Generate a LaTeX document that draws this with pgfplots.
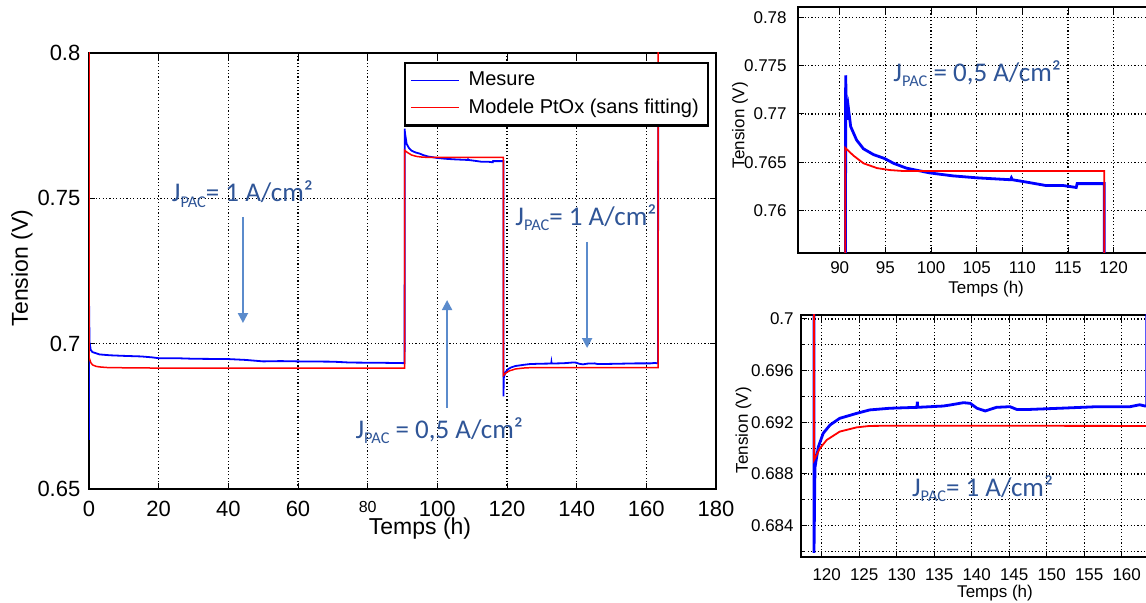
\documentclass[border=0pt]{standalone}
\usepackage{fontspec}
\setmainfont{Liberation Sans}
\newfontfamily\calib{Carlito}
\usepackage{graphicx}
\usepackage{pgfplots}
\pgfplotsset{compat=1.18}
\usepackage{pgfplotstable}
\usetikzlibrary{arrows.meta}
\definecolor{annot}{RGB}{47,85,151}
\definecolor{arrowc}{RGB}{91,139,204}
\definecolor{mblue}{RGB}{0,0,255}
\definecolor{mred}{RGB}{255,0,0}

\newcommand{\jpac}[1]{{\calib\fontsize{13.5}{14}\selectfont J\raisebox{-2.6pt}{\fontsize{8.2}{8}\selectfont PAC}#1}}

\pgfplotstableread{
t v
0 0.6669
0.02 0.7138
0.15 0.7005
0.5 0.6978
1 0.6971
3 0.6963
6 0.6960
10 0.6958
15 0.6956
18 0.6953
20 0.6950
25 0.6950
30 0.6948
40 0.6947
45 0.6944
50 0.6939
55 0.6940
60 0.6939
70 0.6938
75 0.6935
85 0.6934
90.6 0.6933
90.65 0.7740
90.76 0.7694
90.94 0.7707
91.2 0.7687
91.85 0.7673
92.6 0.7664
93.7 0.7658
94.9 0.7654
95.9 0.7649
97.3 0.7644
99.9 0.7639
102.4 0.7636
105 0.7634
108.7 0.7632
108.8 0.7634
108.9 0.7632
110.8 0.7629
112.6 0.7626
114.5 0.7626
115.9 0.7624
116.0 0.7628
116.7 0.7628
118.97 0.7628
118.97 0.6819
119.1 0.6885
119.55 0.6901
120.2 0.69115
121.1 0.69179
122.4 0.69231
124.7 0.6927
126.4 0.69296
129.1 0.69309
132.7 0.69316
132.75 0.69359
132.8 0.69316
136.2 0.69326
137.1 0.69334
138.9 0.69352
139.8 0.69347
140.7 0.69309
141.8 0.69288
143.3 0.69316
145.1 0.69321
146 0.69300
147.8 0.69300
152.2 0.69310
156.7 0.69321
161.1 0.69321
162.4 0.69336
163.1 0.69326
163.35 0.69326
163.4 0.7770
}\bluedata

\pgfplotstableread{
t v
0 0.85
0 0.6953
0.5 0.6935
1 0.6927
2 0.6922
3 0.6920
5 0.6918
10 0.6917
20 0.6916
90.6 0.6916
90.6 0.7665
91.5 0.7657
92.6 0.7649
94.1 0.7644
95.5 0.7642
97 0.7641
118.97 0.7641
118.97 0.68908
119.77 0.68999
120.66 0.69063
122.4 0.69128
124.66 0.69161
126.4 0.69172
129.96 0.69174
163.4 0.69172
163.4 0.85
}\reddata

\pgfplotsset{
  mstyle/.style={
    scale only axis,
    anchor=south west,
    axis line style={line width=1pt, black},
    grid=major,
    major grid style={dash pattern=on 0.6pt off 1.1pt, line width=0.55pt, black},
    minor grid style={dash pattern=on 0.6pt off 1.1pt, line width=0.55pt, black},
    tick align=inside,
    tick style={black, line width=0.5pt},
    major tick length=3pt,
    minor tick length=2pt,
    /pgf/number format/assume math mode=true,
    /pgf/number format/fixed,
    /pgf/number format/precision=3,
  }
}

\begin{document}
\begin{tikzpicture}
% ---------------- main axis ----------------
\begin{axis}[mstyle,
  at={(44.5pt,57pt)},
  width=313.5pt, height=218pt,
  xmin=0, xmax=180, ymin=0.65, ymax=0.8,
  xtick={0,20,...,180},
  xticklabels={0,20,40,60,{\fontsize{8}{8}\selectfont 80},100,120,140,160,180},
  ytick={0.65,0.7,0.75,0.8},
  ticklabel style={font=\fontsize{11}{11}\selectfont},
  xticklabel style={yshift=-2.6pt},
  yticklabel style={xshift=-0.8pt},
  xlabel={Temps (h)},
  ylabel={Tension (V)},
  xlabel style={at={(axis description cs:0.528,-0.09)}, anchor=center, font=\fontsize{11.5}{12}\selectfont},
  ylabel style={at={(axis description cs:-0.107,0.507)}, anchor=center, font=\fontsize{11.5}{12}\selectfont},
  legend style={at={(axis description cs:0.9888,0.9794)}, anchor=north east,
    draw=black, very thick, fill=white,
    font=\fontsize{10}{10}\selectfont, cells={anchor=west},
    inner xsep=2.5pt, inner ysep=2.5pt, row sep=1pt},
  legend image code/.code={\draw[#1, line width=0.8pt] (0pt,0pt) -- (24pt,0pt); \path (26.5pt,0pt);},
]
\addplot[mblue, line width=0.9pt] table[x=t, y=v] {\bluedata};
\addlegendentry{Mesure}
\addplot[mred, line width=0.75pt] table[x=t, y=v] {\reddata};
\addlegendentry{Modele PtOx (sans fitting)}

\node[anchor=base west, inner sep=0pt, text=annot] at (axis cs:23.7,0.7488) {\jpac{= 1 A/cm²}};
\node[anchor=base west, inner sep=0pt, text=annot] at (axis cs:76.4,0.6674) {\jpac{\ = 0,5 A/cm²}};
\node[anchor=base west, inner sep=0pt, text=annot] at (axis cs:122.3,0.7408) {\jpac{= 1 A/cm²}};
\draw[arrowc, line width=1pt, -{Triangle[width=5pt,length=5pt]}] (axis cs:44.2,0.7436) -- (axis cs:44.2,0.7071);
\draw[arrowc, line width=1pt, -{Triangle[width=5pt,length=5pt]}] (axis cs:102.8,0.6779) -- (axis cs:102.8,0.7150);
\draw[arrowc, line width=1pt, -{Triangle[width=5pt,length=5pt]}] (axis cs:143.0,0.7350) -- (axis cs:143.0,0.6985);
\end{axis}

% ---------------- inset 1 (0.5 A/cm2) ----------------
\begin{axis}[mstyle,
  at={(398.85pt,175.15pt)},
  width=180.8pt, height=122.7pt,
  xmin=85.4, xmax=125, ymin=0.75566, ymax=0.78103,
  xtick={90,95,...,120},
  ytick={0.76,0.765,0.77,0.775,0.78},
  ticklabel style={font=\fontsize{8.5}{9}\selectfont},
  xticklabel style={yshift=-0.9pt},
  yticklabel style={xshift=-2pt},
  xlabel={Temps (h)},
  ylabel={Tension (V)},
  xlabel style={at={(axis description cs:0.521,-0.148)}, anchor=center, font=\fontsize{8.5}{9}\selectfont},
  ylabel style={at={(axis description cs:-0.16,0.52)}, anchor=center, font=\fontsize{8.5}{9}\selectfont},
]
\addplot[mblue, line width=1.4pt] table[x=t, y=v] {\bluedata};
\addplot[mred, line width=0.9pt] table[x=t, y=v] {\reddata};
\node[anchor=base west, inner sep=0pt, text=annot] at (axis cs:95.84,0.77334) {\jpac{\ = 0,5 A/cm²}};
\end{axis}

% ---------------- inset 2 (1 A/cm2) ----------------
\begin{axis}[mstyle,
  at={(400.35pt,22.85pt)},
  width=179.25pt, height=121.15pt,
  xmin=117.2, xmax=165, ymin=0.68155, ymax=0.70031,
  xtick={120,125,...,160},
  ytick={0.684,0.688,0.692,0.696,0.7},
  minor ytick={0.682,0.686,0.69,0.694,0.698},
  grid=both,
  ticklabel style={font=\fontsize{8.5}{9}\selectfont},
  xticklabel style={yshift=-2pt, xshift=2.5pt},
  xlabel={Temps (h)},
  ylabel={Tension (V)},
  xlabel style={at={(axis description cs:0.542,-0.147)}, anchor=center, font=\fontsize{8.5}{9}\selectfont},
  ylabel style={at={(axis description cs:-0.16,0.525)}, anchor=center, font=\fontsize{8.5}{9}\selectfont},
]
\addplot[mblue, line width=1.4pt] table[x=t, y=v] {\bluedata};
\addplot[mred, line width=0.9pt] table[x=t, y=v] {\reddata};
\node[anchor=base west, inner sep=0pt, text=annot] at (axis cs:132.0,0.68624) {\jpac{= 1 A/cm²}};
\end{axis}

\pgfresetboundingbox
\path (0,0) rectangle (573pt,301.5pt);
\end{tikzpicture}
\end{document}
